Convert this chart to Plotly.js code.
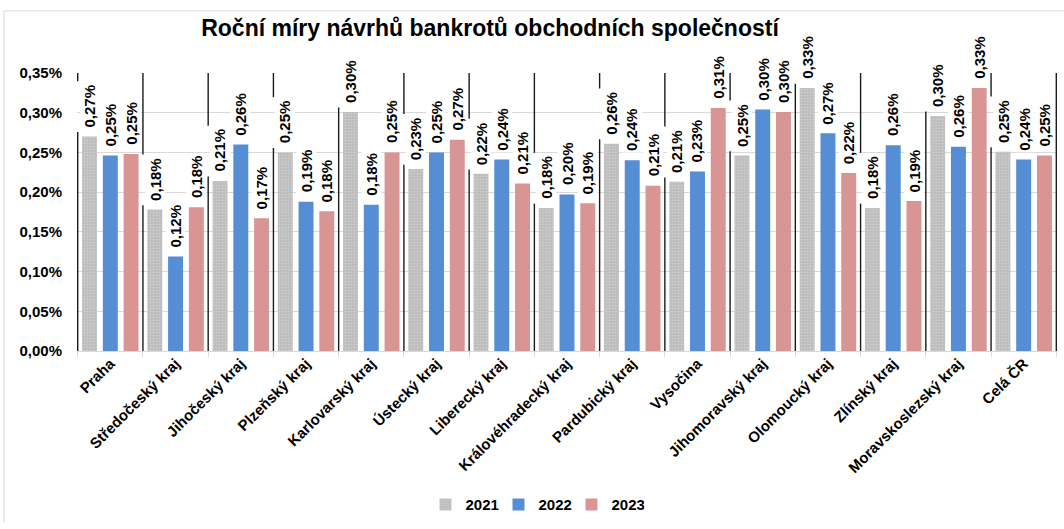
<!DOCTYPE html>
<html>
<head>
<meta charset="utf-8">
<script src="https://cdn.plot.ly/plotly-3.0.1.min.js"></script>
<style>html,body{margin:0;padding:0;background:#fff;}#chart{width:1064px;height:529px;}</style>
</head>
<body>
<div id="chart"></div>
<script>
// ---- data (values in %) ----
const categories = ["Praha","Středočeský kraj","Jihočeský kraj","Plzeňský kraj","Karlovarský kraj","Ústecký kraj","Liberecký kraj","Královéhradecký kraj","Pardubický kraj","Vysočina","Jihomoravský kraj","Olomoucký kraj","Zlínský kraj","Moravskoslezský kraj","Celá ČR"];
const seriesNames = ["2021","2022","2023"];
const values2021 = [0.270,0.178,0.214,0.250,0.301,0.229,0.223,0.180,0.261,0.213,0.246,0.331,0.180,0.296,0.251];
const values2022 = [0.246,0.119,0.260,0.188,0.184,0.250,0.241,0.197,0.240,0.226,0.304,0.274,0.259,0.257,0.241];
const values2023 = [0.248,0.181,0.167,0.176,0.250,0.266,0.211,0.186,0.208,0.306,0.301,0.224,0.189,0.331,0.246];
const yTickVals = [0,0.05,0.10,0.15,0.20,0.25,0.30,0.35];
const chartTitle = "Roční míry návrhů bankrotů obchodních společností";

// ---- styling / layout constants ----
const W = 1064, H = 529;
const M = {l:77, r:7, t:73, b:174};
const plotW = W - M.l - M.r, plotH = H - M.t - M.b;
const yMax = 0.35;
const ppu = plotH / yMax;              // px per value unit
const bargap = 0.045, bargroupgap = 0.28;
const groupPx = plotW / categories.length;
const slotPx = groupPx * (1 - bargap) / 3;
const colors = ["#BFBFBF","#558ED5","#D99594"];
const allValues = [values2021, values2022, values2023];
const FONT = "'Liberation Sans', Arial, sans-serif";

const fmt = v => (Math.round(v*100)/100).toFixed(2).replace('.', ',') + '%';

const traces = allValues.map((vals, s) => ({
  type: 'bar',
  name: seriesNames[s],
  x: categories,
  y: vals,
  marker: Object.assign({color: colors[s], line: {width: 0}},
    s === 0 ? {pattern: {shape: '.', bgcolor: '#BCBCBC', fgcolor: '#CDCDCD', size: 3, solidity: 0.4, fillmode: 'replace'}} : {}),
  hoverinfo: 'skip'
}));

// data labels
const annotations = [];
allValues.forEach((vals, s) => {
  vals.forEach((v, i) => {
    annotations.push({
      x: categories[i], y: v, xref: 'x', yref: 'y',
      text: '<b>' + fmt(v) + '</b>',
      showarrow: false, textangle: -90,
      xanchor: 'center', yanchor: 'bottom',
      xshift: (s - 1) * slotPx, yshift: 7,
      bgcolor: '#FFFFFF', borderpad: 1,
      font: {family: FONT, size: 15, color: '#000'}
    });
  });
});

// group separator lines (interrupted by the first label of the following group)
const shapes = [];
const lineStyle = {color: '#1A1A1A', width: 1.4};
for (let i = 0; i <= categories.length; i++) {
  const x = i - 0.5;
  if (i === categories.length) {
    shapes.push({type: 'line', xref: 'x', yref: 'y', x0: x, x1: x, y0: 0, y1: yMax, line: lineStyle});
    continue;
  }
  const v = values2021[i];
  const gapLow = v + 4.5 / ppu, gapHigh = v + 56 / ppu;
  shapes.push({type: 'line', xref: 'x', yref: 'y', x0: x, x1: x, y0: 0, y1: Math.min(gapLow, yMax), line: lineStyle});
  if (gapHigh < yMax) {
    shapes.push({type: 'line', xref: 'x', yref: 'y', x0: x, x1: x, y0: gapHigh, y1: yMax, line: lineStyle});
  }
}
// chart frame (top and left edges)
const px2paperX = p => (p - M.l) / plotW;
const px2paperY = p => (H - M.b - p) / plotH;
shapes.push({type: 'line', xref: 'paper', yref: 'paper', x0: px2paperX(4), x1: px2paperX(W), y0: px2paperY(10), y1: px2paperY(10), line: {color: '#D9D9D9', width: 1}});
shapes.push({type: 'line', xref: 'paper', yref: 'paper', x0: px2paperX(4), x1: px2paperX(4), y0: px2paperY(10), y1: px2paperY(H), line: {color: '#D9D9D9', width: 1}});

const layout = {
  width: W, height: H,
  margin: M,
  paper_bgcolor: '#FFFFFF', plot_bgcolor: '#FFFFFF',
  separators: ', ',
  font: {family: FONT, color: '#000'},
  title: {
    text: '<b>' + chartTitle + '</b>',
    font: {family: FONT, size: 23, color: '#000'},
    xref: 'container', yref: 'container',
    x: 490 / W, xanchor: 'center', y: 1 - 28 / H, yanchor: 'middle'
  },
  barmode: 'group', bargap: bargap, bargroupgap: bargroupgap,
  showlegend: true,
  legend: {
    orientation: 'h', x: px2paperX(535), xanchor: 'center',
    y: px2paperY(511), yanchor: 'middle',
    font: {family: FONT, size: 15, color: '#000', weight: 'bold'},
    itemwidth: 30, entrywidth: 28, traceorder: 'normal'
  },
  xaxis: {
    type: 'category',
    tickangle: -45,
    tickfont: {family: FONT, size: 15, color: '#000', weight: 'bold'},
    ticks: 'outside', tickson: 'boundaries', ticklen: 5, tickcolor: '#D9D9D9',
    showgrid: false, showline: false, zeroline: false,
    fixedrange: true
  },
  yaxis: {
    range: [0, yMax],
    tickmode: 'array',
    tickvals: yTickVals,
    ticktext: yTickVals.map(fmt),
    tickfont: {family: FONT, size: 15, color: '#000', weight: 'bold'},
    ticks: '', ticklabelstandoff: 14,
    showgrid: true, gridcolor: '#D9D9D9', gridwidth: 1,
    zeroline: true, zerolinecolor: '#D9D9D9', zerolinewidth: 1,
    showline: false, fixedrange: true
  },
  shapes: shapes,
  annotations: annotations
};

Plotly.newPlot('chart', traces, layout, {displayModeBar: false, staticPlot: true});
</script>
</body>
</html>
